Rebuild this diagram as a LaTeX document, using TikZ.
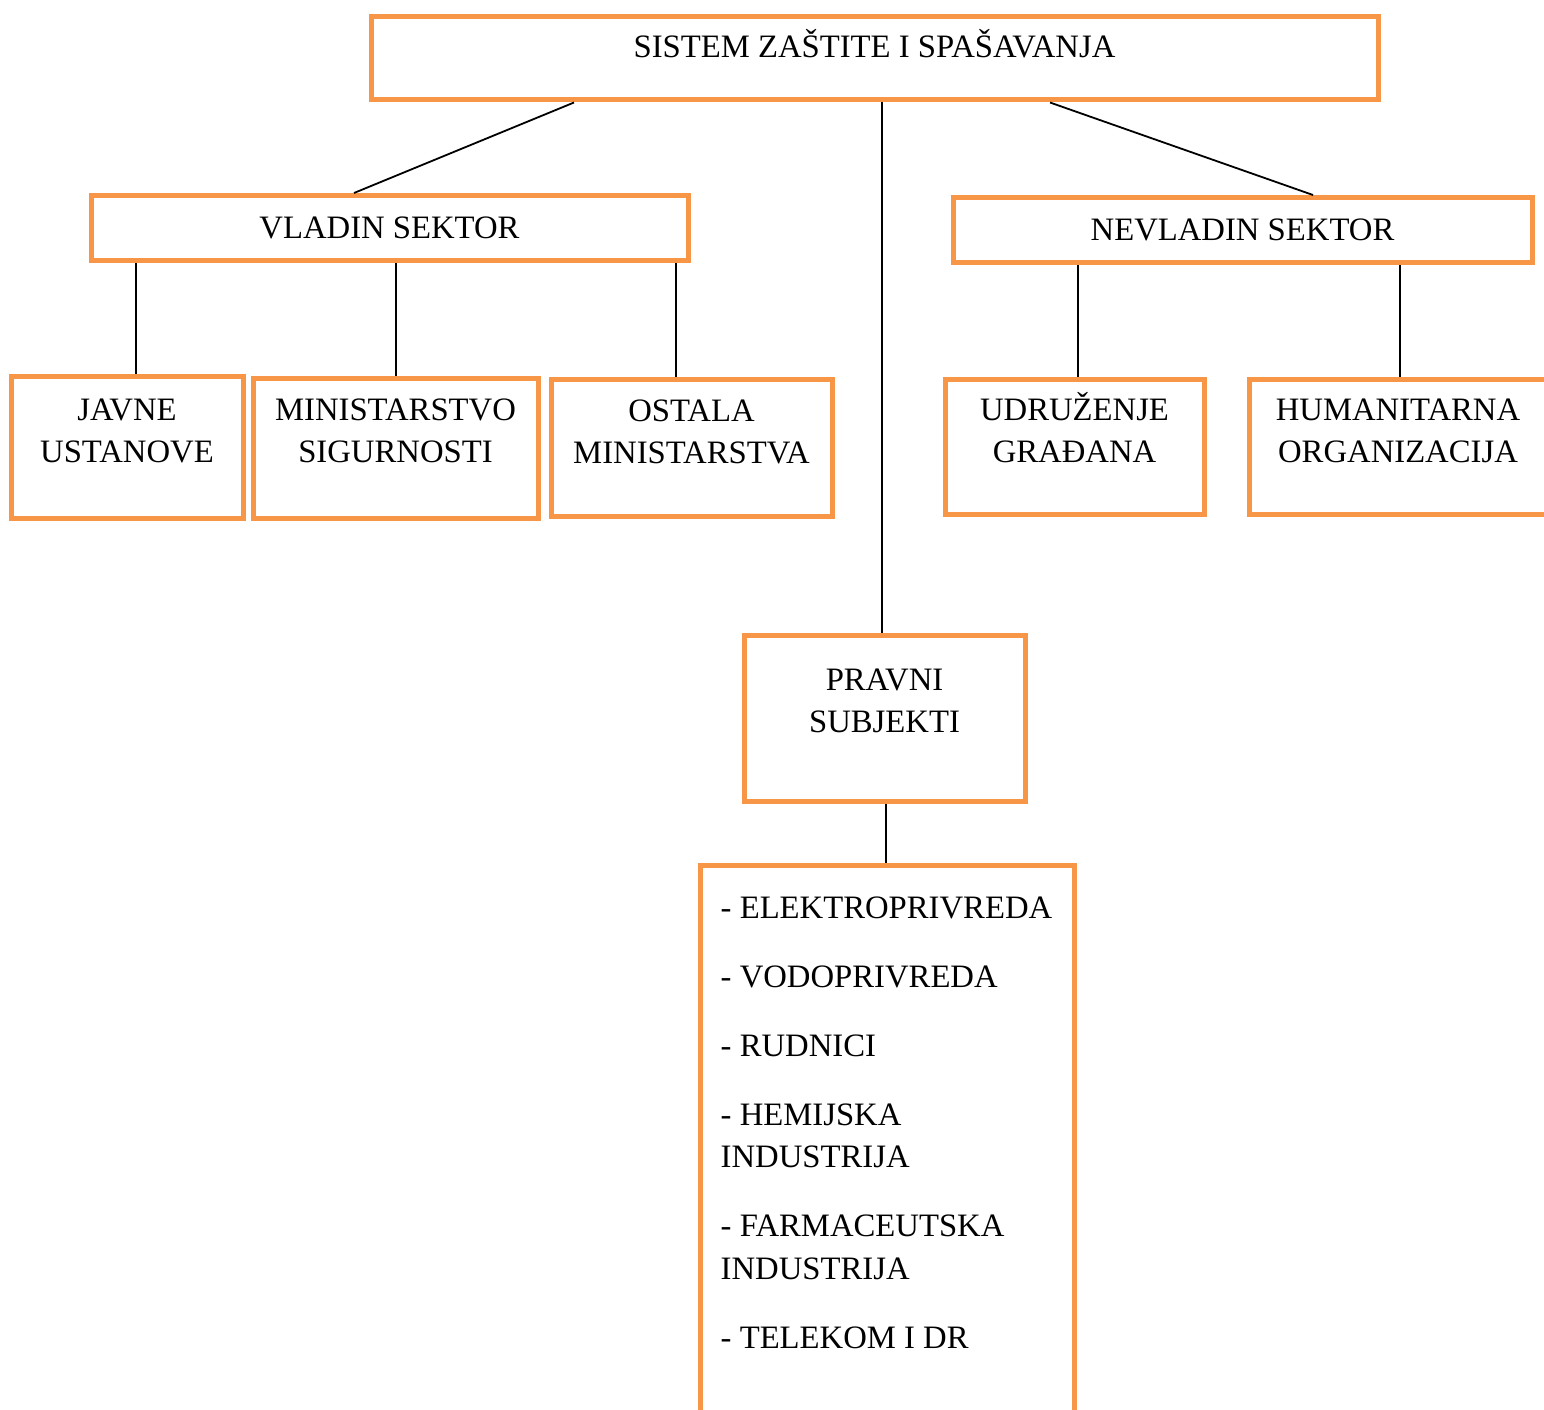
\documentclass[tikz,border=0pt]{standalone}
\usepackage{fontspec}
\setmainfont{Liberation Serif}
\usepackage{xcolor}
\usepackage{tikz}
\usetikzlibrary{positioning}
\definecolor{narandza}{RGB}{247,150,70}
\newcommand\boxfont{\fontsize{32.7}{42.5}\selectfont}
\begin{document}
\begin{tikzpicture}[x=1pt,y=-1pt,
    okvir/.style={draw=narandza,line width=5pt,rectangle,inner sep=0pt},
    natpis/.style={font=\boxfont,align=center,inner sep=0pt},
    veza/.style={draw=black,line width=1.8pt}]
  \useasboundingbox (0,0) rectangle (1544,1410);
  \node[okvir,minimum width=1007pt,minimum height=83pt] (sistem) at (874.5,58.5) {};
  \node[natpis,below=13pt of sistem.north] {\strut SISTEM ZAŠTITE I SPAŠAVANJA};
  \node[okvir,natpis,minimum width=597pt,minimum height=65pt] (vladin) at (389.5,228) {VLADIN SEKTOR};
  \node[okvir,natpis,minimum width=579pt,minimum height=65pt] (nevladin) at (1242.5,230) {NEVLADIN SEKTOR};
  \node[okvir,minimum width=232pt,minimum height=142pt] (javne) at (127,447) {};
  \node[natpis,below=17pt of javne.north] {\strut JAVNE\\USTANOVE};
  \node[okvir,minimum width=285pt,minimum height=140pt] (ministarstvo) at (395.5,448) {};
  \node[natpis,below=15pt of ministarstvo.north] {\strut MINISTARSTVO\\SIGURNOSTI};
  \node[okvir,minimum width=281pt,minimum height=137pt] (ostala) at (691.5,447.5) {};
  \node[natpis,below=15pt of ostala.north] {\strut OSTALA\\MINISTARSTVA};
  \node[okvir,minimum width=259pt,minimum height=135pt] (udruzenje) at (1074.5,446.5) {};
  \node[natpis,below=14pt of udruzenje.north] {\strut UDRUŽENJE\\GRAĐANA};
  \node[okvir,minimum width=298pt,minimum height=135pt] (humanitarna) at (1398,446.5) {};
  \node[natpis,below=14pt of humanitarna.north] {\strut HUMANITARNA\\ORGANIZACIJA};
  \node[okvir,minimum width=281pt,minimum height=166pt] (pravni) at (884.5,718) {};
  \node[natpis,below=28pt of pravni.north] {\strut PRAVNI\\SUBJEKTI};
  \node[okvir,minimum width=374pt,minimum height=580pt] (lista) at (887,1155) {};
  \node[natpis,align=left,below right=26pt and 23pt of lista.north west]
    {\strut - ELEKTROPRIVREDA\\[26.5pt]- VODOPRIVREDA\\[26.5pt]- RUDNICI\\[26.5pt]- HEMIJSKA\\INDUSTRIJA\\[26.5pt]- FARMACEUTSKA\\INDUSTRIJA\\[26.5pt]- TELEKOM I DR};
  \draw[veza] ([xshift=-300.5pt]sistem.south) -- ([xshift=-35.5pt]vladin.north);
  \draw[veza] ([xshift=175.5pt]sistem.south) -- ([xshift=70.5pt]nevladin.north);
  \draw[veza] ([xshift=-2.5pt]pravni.north) -- ([xshift=-2.5pt]pravni.north |- sistem.south);
  \draw[veza] ([xshift=9pt]javne.north) -- ([xshift=9pt]javne.north |- vladin.south);
  \draw[veza] ([xshift=0.5pt]ministarstvo.north) -- ([xshift=0.5pt]ministarstvo.north |- vladin.south);
  \draw[veza] ([xshift=-15.5pt]ostala.north) -- ([xshift=-15.5pt]ostala.north |- vladin.south);
  \draw[veza] ([xshift=3.5pt]udruzenje.north) -- ([xshift=3.5pt]udruzenje.north |- nevladin.south);
  \draw[veza] ([xshift=2pt]humanitarna.north) -- ([xshift=2pt]humanitarna.north |- nevladin.south);
  \draw[veza] ([xshift=-1pt]lista.north) -- ([xshift=-1pt]lista.north |- pravni.south);
\end{tikzpicture}
\end{document}
